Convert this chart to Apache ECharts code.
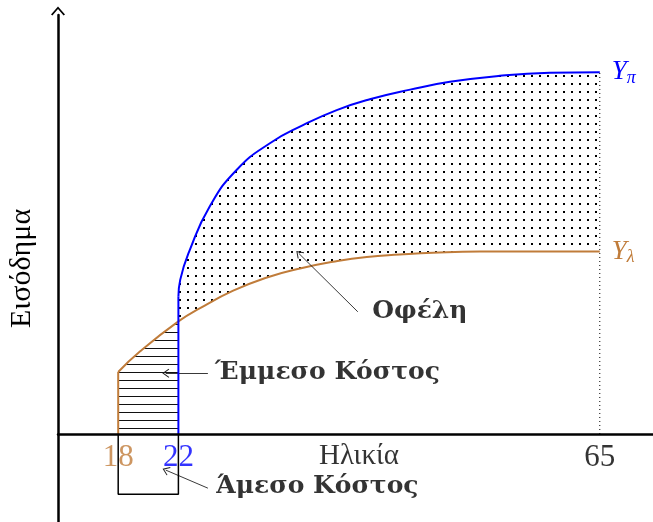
<!DOCTYPE html>
<html>
<head>
<meta charset="utf-8">
<script src="https://cdn.jsdelivr.net/npm/echarts@6.0.0/dist/echarts.min.js"></script>
<style>
  html, body { margin: 0; padding: 0; background: #fff; }
  #chart { width: 653px; height: 522px; }
</style>
</head>
<body>
<div id="chart"></div>
<script>
// abstract drawing units: age 18 -> 1, age 22 -> 2, age 65 -> 9
const tickPos = [1, 2, 9];
const tickLabels = ['18', '22', '65'];

// Y_pi (higher income curve), starts at age 22
const blueX = [2, 2.03, 2.19, 2.52, 2.97, 3.52, 4.07, 4.63, 5.18, 5.85, 6.51, 7.34, 8.17, 9];
const blueY = [2.28, 2.56, 3.06, 3.78, 4.39, 4.83, 5.13, 5.38, 5.56, 5.72, 5.85, 5.95, 6.0, 6.01];

// Y_lambda (lower income curve), starts at age 18
const orangeX = [1, 1.36, 2, 2.36, 2.91, 3.47, 4.02, 4.57, 5.13, 5.68, 6.23, 7.01, 9];
const orangeY = [1.03, 1.37, 1.87, 2.09, 2.38, 2.6, 2.75, 2.86, 2.94, 2.98, 3.01, 3.03, 3.03];

const boxDepth = -1;

// annotations
const annoText = ['Οφέλη', 'Έμμεσο Κόστος', 'Άμεσο Κόστος'];
const annoX = [5.22, 2.61, 2.63];
const annoY = [2.04, 1.02, -0.88];
const arrowFrom = [[4.98, 2.03], [2.49, 1.01], [2.49, -0.90]];
const arrowTo = [[4.0, 3.0], [1.79, 1.01], [1.79, -0.60]];
const xName = 'Ηλικία';
const xNamePos = [5.0, 0];

const BLUE = '#0000ff';
const ORANGE = '#c07c3a';
const SERIF = 'Liberation Serif';

function makePattern(draw) {
  const c = document.createElement('canvas');
  c.width = 8; c.height = 8;
  draw(c.getContext('2d'));
  return { image: c, repeat: 'repeat' };
}
const dots = makePattern(ctx => {
  ctx.fillStyle = '#000';
  ctx.fillRect(3, 3, 2, 2);
});
const hatch = makePattern(ctx => {
  ctx.fillStyle = '#111';
  ctx.fillRect(0, 4, 8, 1);
});

const zip = (xs, ys) => xs.map((x, i) => [x, ys[i]]);
const blueData = zip(blueX, blueY);
const orangeData = zip(orangeX, orangeY);
const hatchData = orangeData.filter(d => d[0] <= 2);

const chevron = 'path://M7,0 L14,8 L12.6,9 L7,2.6 L1.4,9 L0,8 Z';
const smallHead = 'path://M5,0 L10,7 L9.1,7.7 L5,1.9 L0.9,7.7 L0,7 Z';
const tickColors = [ORANGE, BLUE, '#000'];
const SMOOTH = 0.5;

const chart = echarts.init(document.getElementById('chart'));
chart.setOption({
  animation: false,
  grid: { left: 58, right: 0, top: 15, bottom: 0, outerBoundsMode: 'none', containLabel: false },
  xAxis: {
    type: 'value',
    min: 0,
    max: 9.884,
    z: 10,
    axisLine: { onZero: true, lineStyle: { color: '#000', width: 2.5 } },
    axisTick: { show: false },
    splitLine: { show: false },
    axisLabel: { show: false }
  },
  yAxis: {
    type: 'value',
    min: -1.462,
    max: 6.96,
    z: 10,
    axisLine: {
      onZero: true,
      symbol: ['none', chevron],
      symbolSize: [14, 9],
      symbolOffset: [0, 4],
      lineStyle: { color: '#000', width: 2.5 }
    },
    axisTick: { show: false },
    axisLabel: { show: false },
    splitLine: { show: false },
    name: 'Εισόδημα',
    nameLocation: 'middle',
    nameRotate: 90,
    nameGap: 21,
    nameTextStyle: { fontFamily: SERIF, fontSize: 30, color: '#000' }
  },
  series: [
    {
      name: 'Yπ',
      type: 'line',
      data: blueData,
      smooth: SMOOTH,
      symbol: 'none',
      z: 1,
      lineStyle: { color: BLUE, width: 2 },
      areaStyle: { color: dots, opacity: 1 },
      endLabel: {
        show: true,
        distance: 12,
        formatter: '{y|Y}{s|π}',
        rich: {
          y: { fontFamily: SERIF, fontStyle: 'italic', fontSize: 27, color: BLUE },
          s: { fontFamily: SERIF, fontStyle: 'italic', fontSize: 18, color: BLUE, padding: [12, 0, 0, 0] }
        }
      }
    },
    {
      name: 'mask',
      type: 'line',
      data: orangeData,
      smooth: SMOOTH,
      symbol: 'none',
      z: 2,
      lineStyle: { width: 0, opacity: 0 },
      areaStyle: { color: '#fff', opacity: 1 }
    },
    {
      name: 'hatch',
      type: 'line',
      data: hatchData,
      smooth: SMOOTH,
      symbol: 'none',
      z: 3,
      lineStyle: { width: 0, opacity: 0 },
      areaStyle: { color: hatch, opacity: 1 }
    },
    {
      name: 'Yλ',
      type: 'line',
      data: orangeData,
      smooth: SMOOTH,
      symbol: 'none',
      z: 4,
      lineStyle: { color: ORANGE, width: 2 },
      endLabel: {
        show: true,
        distance: 12,
        formatter: '{y|Y}{s|λ}',
        rich: {
          y: { fontFamily: SERIF, fontStyle: 'italic', fontSize: 27, color: ORANGE },
          s: { fontFamily: SERIF, fontStyle: 'italic', fontSize: 18, color: ORANGE, padding: [12, 0, 0, 0] }
        }
      }
    },
    {
      type: 'line', symbol: 'none', z: 5,
      data: [[orangeX[0], 0], orangeData[0]],
      lineStyle: { color: ORANGE, width: 2 }
    },
    {
      type: 'line', symbol: 'none', z: 5,
      data: [[blueX[0], 0], blueData[0]],
      lineStyle: { color: BLUE, width: 2 }
    },
    {
      type: 'line', symbol: 'none', z: 5,
      data: [[tickPos[0], 0], [tickPos[0], boxDepth], [tickPos[1], boxDepth], [tickPos[1], 0]],
      lineStyle: { color: '#000', width: 1.5 }
    },
    {
      type: 'line', symbol: 'none', z: 5,
      data: [[tickPos[2], 0], [tickPos[2], blueY[blueY.length - 1]]],
      lineStyle: { color: '#000', width: 1, type: [1, 3] }
    },
    {
      // tick labels on the age axis
      type: 'scatter',
      z: 4,
      symbolSize: 0,
      data: tickPos.map((x, i) => ({
        name: tickLabels[i], value: [x, 0],
        label: { color: tickColors[i] }
      })),
      label: {
        show: true,
        position: 'bottom',
        distance: 8,
        formatter: p => p.name,
        fontFamily: SERIF,
        fontSize: 31
      }
    },
    {
      type: 'scatter',
      z: 4,
      symbolSize: 0,
      data: [{ name: xName, value: xNamePos }],
      label: {
        show: true,
        position: 'bottom',
        distance: 8,
        formatter: p => p.name,
        fontFamily: SERIF,
        fontSize: 29,
        color: '#000'
      }
    },
    {
      type: 'scatter',
      z: 6,
      symbolSize: 0,
      data: annoText.map((t, i) => ({ name: t, value: [annoX[i], annoY[i]] })),
      label: {
        show: true,
        position: 'right',
        distance: 0,
        formatter: p => p.name,
        fontFamily: 'DejaVu Serif',
        fontWeight: 'bold',
        fontSize: 25,
        color: '#000'
      },
      markLine: {
        silent: true,
        symbol: ['none', smallHead],
        symbolSize: [9, 7],
        label: { show: false },
        lineStyle: { color: '#222', width: 0.9, type: 'solid' },
        data: arrowFrom.map((f, i) => [{ coord: f }, { coord: arrowTo[i] }])
      }
    }
  ]
});
</script>
</body>
</html>
